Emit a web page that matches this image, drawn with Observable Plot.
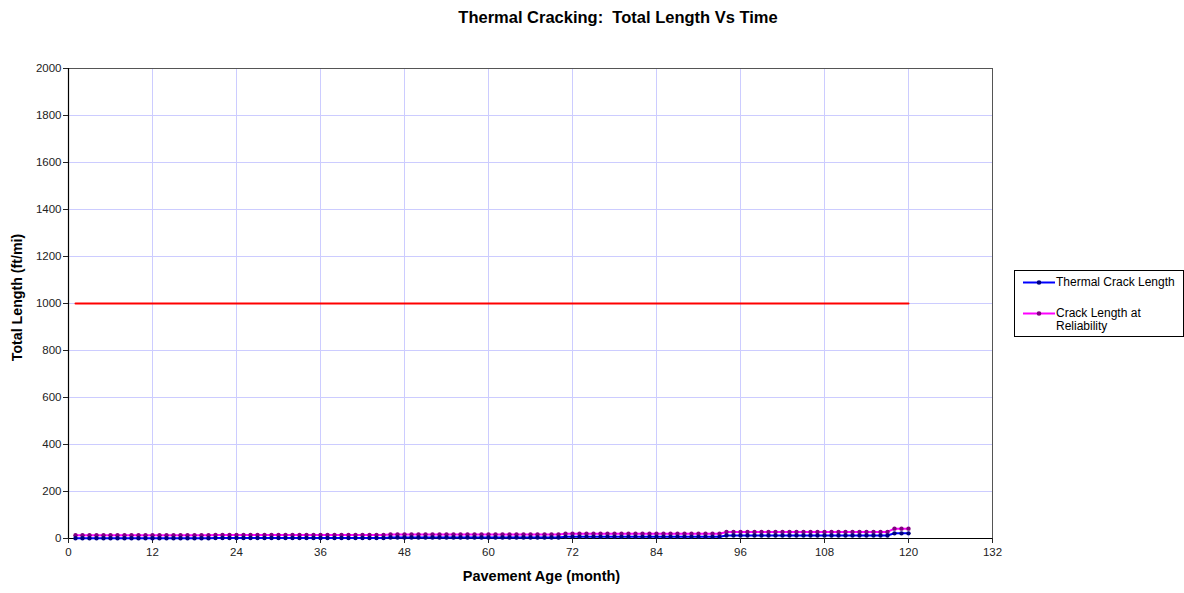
<!DOCTYPE html>
<html><head><meta charset="utf-8">
<script src="https://cdn.jsdelivr.net/npm/d3@7"></script>
<script src="https://cdn.jsdelivr.net/npm/@observablehq/plot@0.6"></script>
<style>
body{margin:0;background:#fff;font-family:Arial,"Liberation Sans",sans-serif;}
#wrap{position:relative;width:1184px;height:593px;}
#title{height:40px;text-align:center;font-weight:bold;font-size:16.5px;line-height:34px;padding-left:52px;box-sizing:border-box;}
#legend{position:absolute;left:1014px;top:270px;width:168px;height:65px;border:1px solid #000;font-size:12px;background:#fff;}
#legend .it{position:absolute;left:8px;display:flex;align-items:flex-start;}
#legend svg{flex:none;}
</style></head>
<body><div id="wrap"><div id="title">Thermal Cracking:&nbsp; Total Length Vs Time</div><div id="chart"></div>
<div id="legend">
 <div class="it" style="top:5px"><svg width="32" height="13"><line x1="0" x2="32" y1="6.5" y2="6.5" stroke="#0000ff" stroke-width="2"/><circle cx="16" cy="6.5" r="2.3" fill="#000080"/></svg><span style="margin-left:1px;line-height:13px">Thermal Crack Length</span></div>
 <div class="it" style="top:36px"><svg width="32" height="13"><line x1="0" x2="32" y1="6.5" y2="6.5" stroke="#ff00ff" stroke-width="2"/><circle cx="16" cy="6.5" r="2.3" fill="#800080"/></svg><span style="margin-left:1px;line-height:13px">Crack Length at<br>Reliability</span></div>
</div></div>
<script>
const months = d3.range(1, 121);
const thermal = [
 1,1,1,1,1,1,1,1,1,1,1,1,1,1,1,1,1,1,1,1,
 2,2,2,2,2,2,2,2,2,2,2,2,2,2,2,2,2,2,2,2,2,2,2,2,2,
 4,4,4,4,4,4,4,4,4,4,4,4,4,4,4,4,4,4,4,4,4,4,4,4,4,
 7,7,7,7,7,7,7,7,7,7,7,7,7,7,7,7,7,7,7,7,7,7,7,
 13,13,13,13,13,13,13,13,13,13,13,13,13,13,13,13,13,13,13,13,13,13,13,13,
 22,22,22];
const reliability = [
 14,14,14,14,14,14,14,14,14,14,14,14,14,14,14,14,14,14,14,14,
 15,15,15,15,15,15,15,15,15,15,15,15,15,15,15,15,15,15,15,15,15,15,15,15,15,
 17,17,17,17,17,17,17,17,17,17,17,17,17,17,17,17,17,17,17,17,17,17,17,17,17,
 20,20,20,20,20,20,20,20,20,20,20,20,20,20,20,20,20,20,20,20,20,20,20,
 28,28,28,28,28,28,28,28,28,28,28,28,28,28,28,28,28,28,28,28,28,28,28,28,
 42,42,42];
const limit = 1000;
const xTicks = d3.range(0, 133, 12);
const yTicks = d3.range(0, 2001, 200);

const th = months.map((m,i)=>({m, v: thermal[i]}));
const rl = months.map((m,i)=>({m, v: reliability[i]}));
const lim = [{m:1, v:limit},{m:120, v:limit}];

const chart = Plot.plot({
  width: 1184, height: 553,
  marginLeft: 68, marginRight: 192, marginTop: 28, marginBottom: 55,
  style: {fontFamily: "Arial, 'Liberation Sans', sans-serif", fontSize: "11px", color: "#222", background: "#fff"},
  x: {domain: [0, 132], ticks: xTicks, label: null},
  y: {domain: [0, 2000], ticks: yTicks, label: null},
  marks: [
    Plot.gridX(xTicks, {stroke: "#ccccff", strokeOpacity: 1}),
    Plot.gridY(yTicks, {stroke: "#ccccff", strokeOpacity: 1}),
    Plot.frame({stroke: "#555", strokeWidth: 1}),
    Plot.ruleX([0], {stroke: "#000", strokeWidth: 1.2}),
    Plot.ruleY([0], {stroke: "#000", strokeWidth: 1.2}),
    Plot.axisX({ticks: xTicks, tickSize: 5, tickPadding: 4, fontSize: 11.5, tickFormat: d => String(d), label: null}),
    Plot.axisY({ticks: yTicks, tickSize: 5, tickPadding: 2, fontSize: 11.5, tickFormat: d => String(d), label: null}),
    Plot.line(lim, {x: "m", y: "v", stroke: "#ff0000", strokeWidth: 2}),
    Plot.line(rl, {x: "m", y: "v", stroke: "#ff00ff", strokeWidth: 2}),
    Plot.dot(rl, {x: "m", y: "v", r: 2.2, fill: "#800080"}),
    Plot.line(th, {x: "m", y: "v", stroke: "#0000ff", strokeWidth: 2}),
    Plot.dot(th, {x: "m", y: "v", r: 2.2, fill: "#000080"}),
    Plot.text(["Pavement Age (month)"], {frameAnchor: "bottom", dx: 11, dy: 42, fontWeight: "bold", fontSize: 14.5, fill: "#000"}),
    Plot.text(["Total Length (ft/mi)"], {frameAnchor: "left", textAnchor: "middle", dx: -51, dy: -6, rotate: -90, fontWeight: "bold", fontSize: 14.2, fill: "#000"})
  ]
});
document.getElementById("chart").appendChild(chart);
</script></body></html>
